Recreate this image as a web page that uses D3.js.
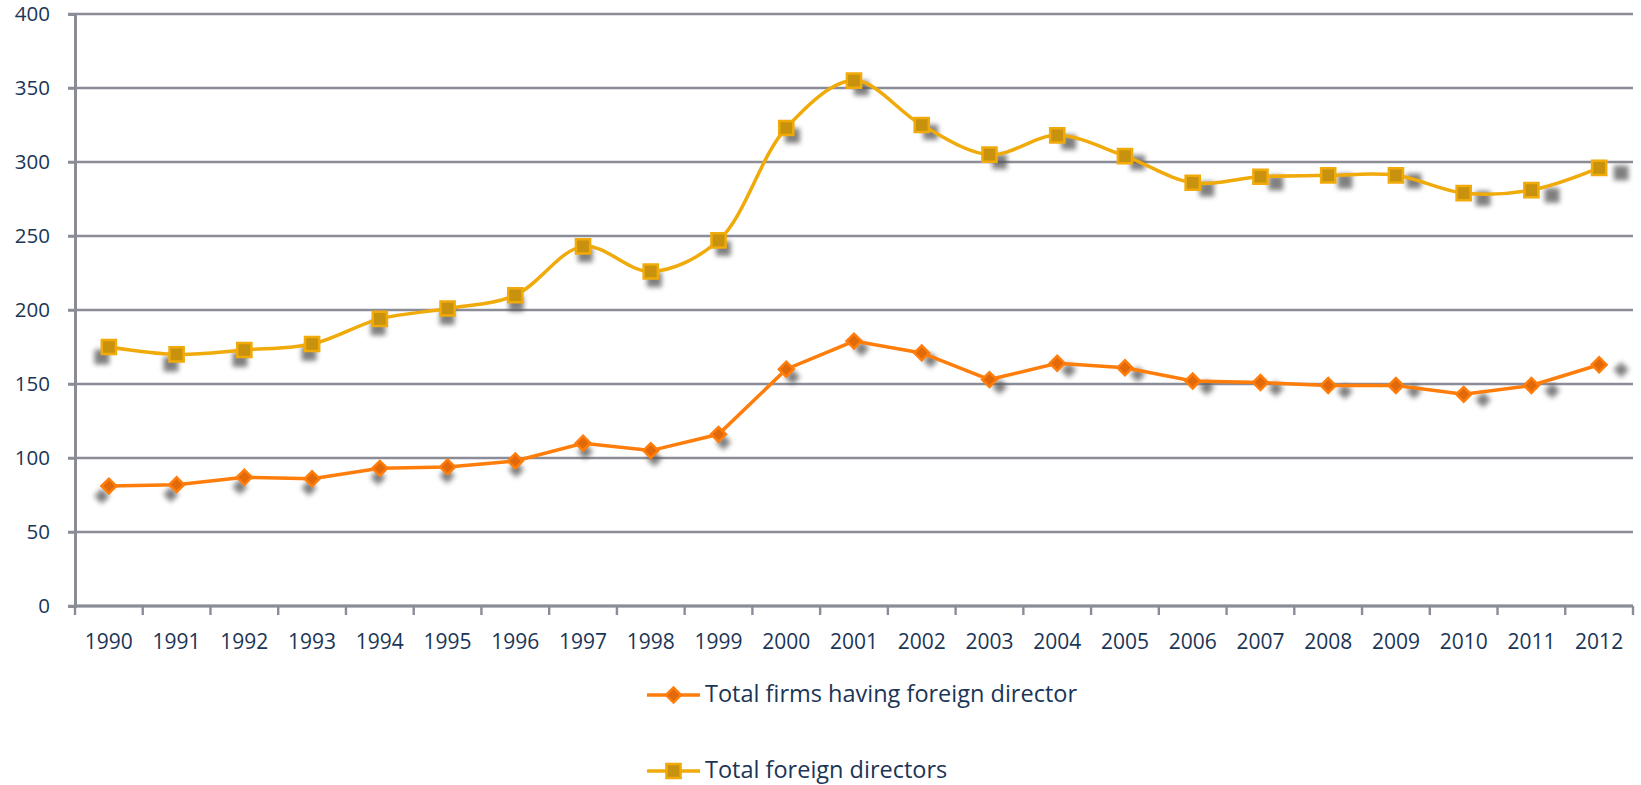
<!DOCTYPE html>
<html>
<head>
<meta charset="utf-8">
<script src="https://cdn.jsdelivr.net/npm/d3@7"></script>
<style>
  body { margin: 0; background: #fff; }
  text { font-family: "Open Sans", sans-serif; fill: #1b3556; }
</style>
</head>
<body>
<svg id="chart" width="1641" height="785"></svg>
<script>
// years along the x axis
const years = ["1990", "1991", "1992", "1993", "1994", "1995", "1996", "1997", "1998", "1999",
    "2000", "2001", "2002", "2003", "2004", "2005", "2006", "2007", "2008", "2009", "2010", "2011", "2012"];
// orange series, straight segments with diamonds
const firms = [81, 82, 87, 86, 93, 94, 98, 110, 105, 116, 160, 179, 171, 153, 164, 161, 152, 151, 149, 149, 143, 149, 163];
// gold series, smoothed with squares
const directors = [175, 170, 173, 177, 194, 201, 210, 243, 226, 247, 323, 355, 325, 305, 318, 304, 286, 290, 291, 291, 279, 281, 296];
const yTicks = [0, 50, 100, 150, 200, 250, 300, 350, 400];
const seriesNames = ["Total firms having foreign director", "Total foreign directors"];

const svg = d3.select("#chart");
const plotLeft = 75, plotRight = 1633, plotTop = 14, plotBottom = 606;

const x = d3.scaleBand().domain(years).range([plotLeft, plotRight]);
const y = d3.scaleLinear().domain([0, 400]).range([plotBottom, plotTop]);
const cx = d => x(d) + x.bandwidth() / 2;

const gridColor = "#8a8d97";

// blurred shadow filter for the markers
const defs = svg.append("defs");
defs.append("filter")
    .attr("id", "shadow")
    .attr("x", "-100%").attr("y", "-100%")
    .attr("width", "300%").attr("height", "300%")
    .append("feGaussianBlur")
    .attr("stdDeviation", 2.6);

// horizontal gridlines
svg.append("g")
    .selectAll("line")
    .data(yTicks)
    .join("line")
    .attr("x1", plotLeft - 7)
    .attr("x2", plotRight)
    .attr("y1", d => y(d))
    .attr("y2", d => y(d))
    .attr("stroke", gridColor)
    .attr("stroke-width", 2.4);

// y axis
const yAxis = svg.append("g")
    .attr("transform", "translate(" + plotLeft + ",0)")
    .call(d3.axisLeft(y).tickValues(yTicks).tickSize(7).tickPadding(18));
yAxis.select(".domain").attr("stroke", gridColor).attr("stroke-width", 3);
yAxis.selectAll(".tick line").attr("stroke", gridColor).attr("stroke-width", 2.4);
yAxis.selectAll(".tick text")
    .attr("font-size", 20.5)
    .attr("font-family", "Open Sans, sans-serif")
    .attr("fill", "#1b3556");

// x axis, ticks between the categories
const xAxis = svg.append("g")
    .attr("transform", "translate(0," + plotBottom + ")");
xAxis.append("line")
    .attr("x1", plotLeft).attr("x2", plotRight)
    .attr("stroke", gridColor).attr("stroke-width", 3);
xAxis.selectAll(".tk")
    .data(years.concat(["end"]))
    .join("line")
    .attr("class", "tk")
    .attr("x1", (d, i) => i < years.length ? x(d) : plotRight)
    .attr("x2", (d, i) => i < years.length ? x(d) : plotRight)
    .attr("y1", 0).attr("y2", 9)
    .attr("stroke", gridColor).attr("stroke-width", 2.4);
xAxis.selectAll("text")
    .data(years)
    .join("text")
    .attr("x", d => cx(d))
    .attr("y", 43)
    .attr("text-anchor", "middle")
    .attr("font-size", 21)
    .text(d => d);

// shadow offset grows from left to right
const shadowDx = d3.scaleLinear().domain([cx(years[0]), cx(years[years.length - 1])]).range([-7, 22]);
const shadowDy = d3.scaleLinear().domain([cx(years[0]), cx(years[years.length - 1])]).range([10, 5]);

const styles = [
    {values: firms, line: "#ff7d0a", fill: "#e2690a", stroke: "#ff7d0a", rotate: 45, size: 110},
    {values: directors, line: "#f0aa0a", fill: "#c8920e", stroke: "#f0aa0a", rotate: 0, size: 200}
];
const curves = [d3.curveLinear, d3.curveCatmullRom.alpha(0.5)];

// marker shadows first so they sit under the lines
styles.forEach(function(s){
    svg.append("g")
        .selectAll("path")
        .data(s.values)
        .join("path")
        .attr("d", d3.symbol().type(d3.symbolSquare).size(s.size * 1.1))
        .attr("transform", function(d, i){
            const px = cx(years[i]);
            return "translate(" + (px + shadowDx(px)) + "," + (y(d) + shadowDy(px)) + ") rotate(" + s.rotate + ")";
        })
        .attr("fill", "#555")
        .attr("opacity", 0.75)
        .attr("filter", "url(#shadow)");
});

styles.forEach(function(s, k){
    const line = d3.line()
        .x((d, i) => cx(years[i]))
        .y(d => y(d))
        .curve(curves[k]);
    svg.append("path")
        .datum(s.values)
        .attr("d", line)
        .attr("fill", "none")
        .attr("stroke", s.line)
        .attr("stroke-width", 3.5);
    svg.append("g")
        .selectAll("path")
        .data(s.values)
        .join("path")
        .attr("d", d3.symbol().type(d3.symbolSquare).size(s.size))
        .attr("transform", (d, i) => "translate(" + cx(years[i]) + "," + y(d) + ") rotate(" + s.rotate + ")")
        .attr("fill", s.fill)
        .attr("stroke", s.stroke)
        .attr("stroke-width", 2.5);
});

// legend
const legend = svg.append("g");
styles.forEach(function(s, i){
    const ly = 695 + i * 76;
    const g = legend.append("g").attr("transform", "translate(647," + ly + ")");
    g.append("line")
        .attr("x1", 0).attr("x2", 53)
        .attr("stroke", s.line).attr("stroke-width", 3.5);
    g.append("path")
        .attr("d", d3.symbol().type(d3.symbolSquare).size(s.size))
        .attr("transform", "translate(26.5,0) rotate(" + s.rotate + ")")
        .attr("fill", s.fill)
        .attr("stroke", s.stroke)
        .attr("stroke-width", 2.5);
    g.append("text")
        .attr("x", 58)
        .attr("y", 7)
        .attr("font-size", 23.5)
        .text(seriesNames[i]);
});
</script>
</body>
</html>
